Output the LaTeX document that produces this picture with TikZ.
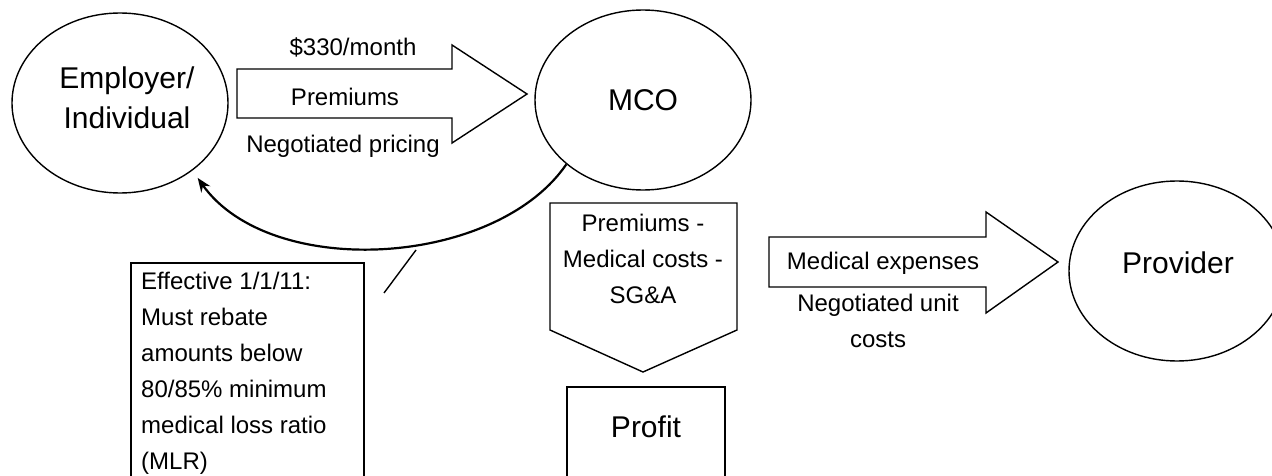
\documentclass[tikz,border=0pt]{standalone}
\usepackage{fontspec}
\setmainfont{Liberation Sans}
\usetikzlibrary{arrows.meta,shapes.geometric}
\begin{document}
\begin{tikzpicture}[x=1pt,y=-1pt,
  ln/.style={draw=black, line width=1.4pt},
  oval/.style={ln, ellipse, inner sep=0pt, minimum width=216pt, minimum height=180pt},
  bigtxt/.style={font=\fontsize{30}{40}\selectfont, align=center, inner sep=0pt},
  lbl/.style={font=\fontsize{24}{36}\selectfont, align=center, inner sep=0pt},
]
\useasboundingbox (0,0) rectangle (1272,476);
\clip (0,0) rectangle (1272,476);
% ovals
\node[oval] (emp) at (120,103) {};
\node[oval] (mco) at (643,100) {};
\node[oval] (prov) at (1177,271) {};
\node[bigtxt] (empt) at (127,98) {Employer/\\Individual};
\node[bigtxt] (mcot) at (643,100) {MCO};
\node[bigtxt] (provt) at (1178,263) {Provider};
% premium arrow
\draw[ln] (237,69) -- (452,69) -- (452,45) -- (527,94) -- (452,143) -- (452,118) -- (237,118) -- cycle;
\node[lbl] (t330) at (353,47) {\$330/month};
\node[lbl] (tprem) at (345,97) {Premiums};
\node[lbl] (tneg) at (343,146) {Negotiated pricing};
% pentagon
\draw[ln] (550,203) -- (737,203) -- (737,330) -- (643,372) -- (550,330) -- cycle;
\node[lbl] (tpent) at (643,259) {Premiums -\\Medical costs -\\SG\&A};
% profit
\draw[ln] (567,387) rectangle (725,500);
\node[bigtxt] (tprof) at (646,427) {Profit};
% medical expenses arrow
\draw[ln] (769,237) -- (986,237) -- (986,212) -- (1058,262) -- (986,313) -- (986,287) -- (769,287) -- cycle;
\node[lbl] (tmed) at (883,263) {Medical expenses};
\node[lbl] (tunit) at (878,321) {Negotiated unit\\costs};
% rebate box
\draw[ln] (131,263) rectangle (364,500);
\node[lbl, align=left, anchor=west] (rule) at (141,373) {Effective 1/1/11:\\Must rebate\\amounts below\\80/85\% minimum\\medical loss ratio\\(MLR)};
% rebate curve
\draw[line width=2.2pt, shorten >=9pt, -{Stealth[length=14pt,width=11pt]}] (mco.220) .. controls (495,268) and (270,280) .. (emp.317);
\coordinate (c1) at (416,250);
\coordinate (c2) at (384,293);
\draw[line width=1.4pt] (c1) -- (c2);
\end{tikzpicture}
\end{document}
